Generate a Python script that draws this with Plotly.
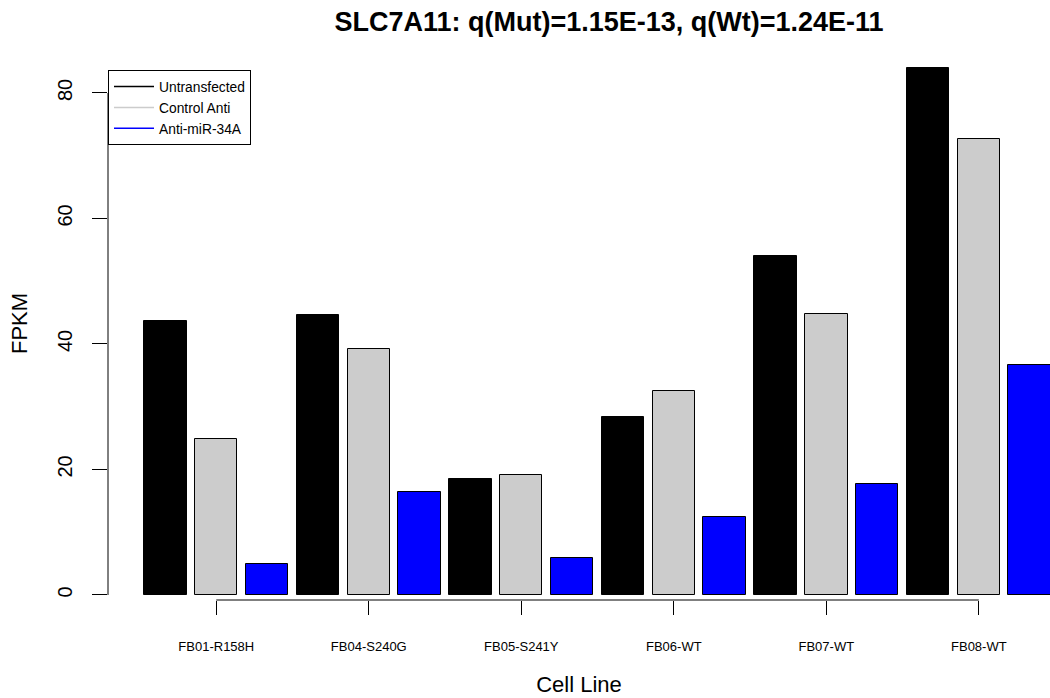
import plotly.graph_objects as go

cell_lines = ["FB01-R158H", "FB04-S240G", "FB05-S241Y", "FB06-WT", "FB07-WT", "FB08-WT"]
series_names = ["Untransfected", "Control Anti", "Anti-miR-34A"]
untransfected = [43.7, 44.6, 18.5, 28.4, 54.0, 84.0]
control_anti = [24.9, 39.2, 19.1, 32.5, 44.8, 72.7]
anti_mir34a = [4.9, 16.4, 5.9, 12.4, 17.7, 36.7]
y_ticks = [0, 20, 40, 60, 80]
colors = ["#000000", "#CCCCCC", "#0000FF"]

title = "SLC7A11: q(Mut)=1.15E-13, q(Wt)=1.24E-11"

# R barplot geometry: width 1, space 0.2, bars in sequence
series = [untransfected, control_anti, anti_mir34a]
n_s = len(series)
fig = go.Figure()
for s, (name, vals, col) in enumerate(zip(series_names, series, colors)):
    xs = [0.7 + 1.2 * (g * n_s + s) for g in range(len(cell_lines))]
    fig.add_trace(go.Bar(x=xs, y=vals, width=1.0, marker=dict(color=col, line=dict(color="black", width=1)),
                         name=name, showlegend=False))
    # legend entry as a line
    fig.add_trace(go.Scatter(x=[None], y=[None], mode="lines", line=dict(color=col, width=1.5), name=name))

group_x = [0.7 + 1.2 * (g * n_s + 1) for g in range(len(cell_lines))]

FONT = "Liberation Sans, Arial, sans-serif"
fig.update_layout(
    width=1050, height=698,
    margin=dict(l=108, r=0, t=47, b=98),
    paper_bgcolor="white", plot_bgcolor="white",
    showlegend=True,
    font=dict(family=FONT, color="black"),
    title=dict(text="<b>" + title + "</b>", x=609 / 1050, xanchor="center", y=1 - 22 / 698, yanchor="middle",
               font=dict(size=27, family=FONT, color="black")),
    legend=dict(x=0, y=1 - 23 / 553, xanchor="left", yanchor="top", bordercolor="black", borderwidth=1,
                bgcolor="white", font=dict(size=13.8, family=FONT), itemwidth=40, tracegroupgap=0),
    bargap=0,
)
fig.update_xaxes(range=[-0.656, 21.58], tickmode="array", tickvals=group_x, ticktext=cell_lines,
                 ticks="outside", ticklen=14, tickwidth=1, tickcolor="black", showline=False, showgrid=False,
                 zeroline=False, tickfont=dict(size=13, family=FONT), ticklabelstandoff=20,
                 title=dict(text="Cell Line", font=dict(size=22, family=FONT), standoff=24))
fig.update_yaxes(range=[-0.8, 87.33], tickmode="array", tickvals=y_ticks, ticktext=[str(v) for v in y_ticks],
                 ticks="outside", ticklen=15, tickwidth=1, tickcolor="black", showline=False, showgrid=False,
                 zeroline=False, tickangle=-90, tickfont=dict(size=20, family=FONT), ticklabelstandoff=12,
                 title=dict(text="FPKM", font=dict(size=22, family=FONT), standoff=20))
# y-axis line spanning the tick range
fig.add_shape(type="line", xref="paper", yref="y", x0=0, x1=0, y0=y_ticks[0], y1=y_ticks[-1],
              line=dict(color="black", width=1))
# x-axis line spanning first to last group tick
fig.add_shape(type="line", xref="x", yref="paper", x0=group_x[0], x1=group_x[-1], y0=0, y1=0,
              line=dict(color="black", width=1))
fig.write_html("out.html")
